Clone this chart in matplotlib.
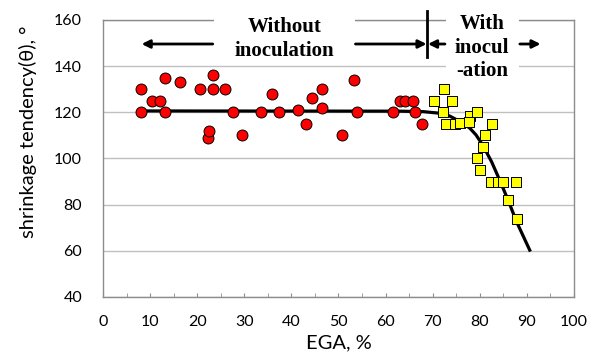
import matplotlib.pyplot as plt
from matplotlib.patches import Rectangle

# points without inoculation (red circles)
red_x = [8, 8, 10.5, 12, 13.2, 13.2, 16.4, 20.6, 22.2, 22.5, 23.4, 23.4, 26.0, 27.6, 29.5, 33.5,
         35.8, 37.3, 41.5, 43.2, 44.3, 46.5, 46.5, 50.8, 53.3, 54.0, 61.6, 63.1, 64.1, 65.9, 66.2, 67.8]
red_y = [130, 120, 125, 125, 135, 120, 133, 130, 109, 112, 136, 130, 130, 120, 110, 120,
         128, 120, 121, 115, 126, 130, 122, 110, 134, 120, 120, 125, 125, 125, 120, 115]

# points with inoculation (yellow squares)
yel_x = [70.3, 72.3, 74.2, 72.2, 72.9, 74.7, 75.9, 77.9, 77.7, 79.4, 82.5,
         81.1, 80.7, 79.4, 80.0, 82.3, 83.9, 84.9, 87.6, 85.9, 87.8]
yel_y = [125, 130, 125, 120, 115, 115, 115.5, 118.5, 116, 120, 115,
         110, 105, 100, 95, 90, 90, 90, 90, 82, 74]

# trend line
fit_x = [8, 63, 68, 71.5, 73.5, 75, 76.5, 77.9, 79.2, 80.3, 81.4, 82.5, 84.2, 86, 87.8, 90.6]
fit_y = [120.6, 120.5, 120.3, 119.6, 118.5, 116.9, 115.2, 113.1, 110.2, 106.8, 102.8, 98.6, 90.7, 82, 72.6, 60.3]

xticks = list(range(0, 101, 10))
yticks = list(range(40, 161, 20))

plt.rcParams['font.family'] = ['Lato', 'DejaVu Sans']

fig = plt.figure(figsize=(5.97, 3.61), dpi=100)
ax = fig.add_axes([0.1725, 0.1773, 0.789, 0.7673])

ax.set_xlim(0, 100)
ax.set_ylim(40, 160)
ax.set_xticks(xticks)
ax.set_xticks(range(5, 100, 10), minor=True)
ax.set_yticks(yticks)
for s in ax.spines.values():
    s.set_color('#8c8c8c')
    s.set_linewidth(1.0)
ax.grid(axis='y', color='#c0c0c0', lw=1.0)
ax.set_axisbelow(True)
ax.tick_params(axis='x', which='both', direction='in', length=3, color='#8c8c8c',
               labelsize=11.5, pad=13)
ax.tick_params(axis='y', length=0, labelsize=11.5, pad=15)

ax.plot(fit_x, fit_y, color='black', lw=2.3, zorder=3, solid_joinstyle='round')
ax.scatter(red_x, red_y, s=62, c='#ff0000', edgecolors='black', linewidths=0.7, zorder=4)
ax.scatter(yel_x, yel_y, s=50, marker='s', c='#ffff00', edgecolors='black', linewidths=0.7, zorder=4)

ax.set_xlabel('EGA, %', fontsize=14.5, labelpad=4)
ax.set_ylabel('shrinkage tendency(θ), °', fontsize=14.5)
ax.yaxis.set_label_coords(-0.14, 0.597)

# white boxes that break the top frame around the notes
ax.add_patch(Rectangle((23.6, 142), 29.8, 25, facecolor='white', edgecolor='none',
                       zorder=5, clip_on=False))
ax.add_patch(Rectangle((72.8, 134), 15.6, 33, facecolor='white', edgecolor='none',
                       zorder=5, clip_on=False))

serif = dict(family='Liberation Serif', fontweight='bold', fontsize=15, ha='center',
             va='center', zorder=6, linespacing=1.22)
ax.text(38.6, 151.8, 'Without\ninoculation', **serif)
ax.text(80.5, 148.0, 'With\ninocul\n-ation', **serif)

arrow = dict(arrowstyle='-|>', color='black', lw=2, mutation_scale=12, shrinkA=0, shrinkB=0)
ax.annotate('', xy=(8.2, 149.6), xytext=(23.3, 149.6), arrowprops=arrow,
            annotation_clip=False, zorder=6)
ax.annotate('', xy=(68.7, 149.6), xytext=(53.6, 149.6), arrowprops=arrow,
            annotation_clip=False, zorder=6)
ax.annotate('', xy=(69.0, 149.6), xytext=(72.6, 149.6), arrowprops=arrow,
            annotation_clip=False, zorder=6)
ax.annotate('', xy=(92.9, 149.6), xytext=(88.5, 149.6), arrowprops=arrow,
            annotation_clip=False, zorder=6)
ax.plot([68.7, 68.7], [144, 164], color='black', lw=2, clip_on=False, zorder=6)

fig.savefig('out.png', dpi=100)
